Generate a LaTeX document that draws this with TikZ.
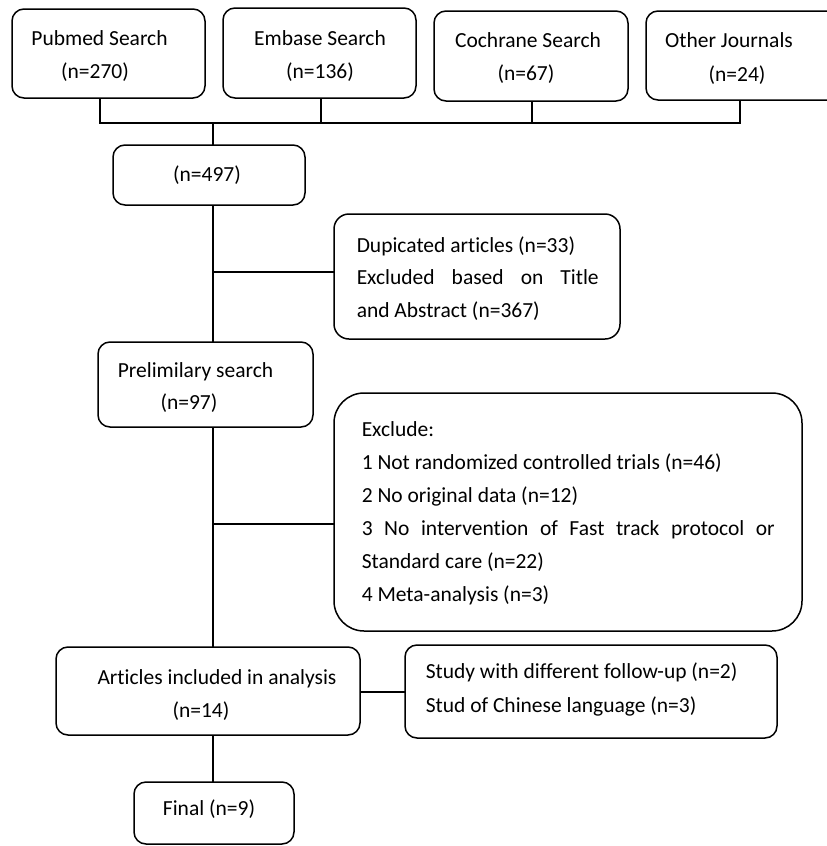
\documentclass[tikz,border=0pt]{standalone}
\usepackage{fontspec}
\setmainfont{Carlito}[Ligatures=NoCommon]
\begin{document}
\begin{tikzpicture}[x=1pt,y=-1pt,line width=1.5pt,
  box/.style={draw, rounded corners=#1, inner sep=0pt, outer sep=0pt},
  box/.default=12pt,
  txt/.style={inner sep=0pt, font=\fontsize{21.5}{26}\selectfont, anchor=mid, yshift=-3pt},
  txl/.style={txt, anchor=mid west},
  conn/.style={line width=1.5pt}]
\useasboundingbox (0,0) rectangle (827,846);
\clip (0,0) rectangle (827,846);

% boxes
\node[box, minimum width=193pt, minimum height=89pt] (pub) at (108.5,53.5) {};
\node[box, minimum width=193pt, minimum height=90pt] (emb) at (319.5,53) {};
\node[box, minimum width=194pt, minimum height=90pt] (coc) at (531,56) {};
\node[box, minimum width=194pt, minimum height=89pt] (oth) at (743,55.5) {};
\node[box, minimum width=192pt, minimum height=60pt] (n497) at (209,175) {};
\node[box=15pt, minimum width=286pt, minimum height=125pt] (dup) at (477,276.5) {};
\node[box, minimum width=215pt, minimum height=85pt] (pre) at (205.5,384.5) {};
\node[box=30pt, minimum width=468pt, minimum height=238pt] (exc) at (568,512) {};
\node[box, minimum width=304pt, minimum height=88pt] (art) at (208,691) {};
\node[box, minimum width=372pt, minimum height=93pt] (fol) at (591,691.5) {};
\node[box, minimum width=160pt, minimum height=62pt] (fin) at (214,813) {};

% texts
\node[txt] at (99.5,40) {Pubmed Search};
\node[txt] at (95,73) {(n=270)};
\node[txt] at (320,40) {Embase Search};
\node[txt] at (320,73) {(n=136)};
\node[txt] at (528,42) {Cochrane Search};
\node[txt] at (526,75) {(n=67)};
\node[txt] at (729,42) {Other Journals};
\node[txt] at (737,76) {(n=24)};
\node[txt] at (207,176) {(n=497)};
\node[txl] at (356,247) {Dupicated articles (n=33)};
\node[txl] at (356,279) {\makebox[242pt][s]{Excluded based on Title}};
\node[txl] at (356,312) {and Abstract (n=367)};
\node[txt] at (195.5,372) {Prelimilary search};
\node[txt] at (189,404) {(n=97)};
\node[txl] at (361,431) {Exclude:};
\node[txl] at (361,464) {1 Not randomized controlled trials (n=46)};
\node[txl] at (361,497) {2 No original data (n=12)};
\node[txl] at (361,530) {\makebox[413pt][s]{3 No intervention of Fast track protocol or}};
\node[txl] at (361,563) {Standard care (n=22)};
\node[txl] at (361,596) {4 Meta-analysis (n=3)};
\node[txt] at (217,679) {Articles included in analysis};
\node[txt] at (201,712) {(n=14)};
\node[txl] at (425,673) {Study with different follow-up (n=2)};
\node[txl] at (425,707) {Stud of Chinese language (n=3)};
\node[txt] at (209,810) {Final (n=9)};

% connectors
\coordinate (b1) at (100,123);
\coordinate (b2) at (321,123);
\coordinate (b3) at (532,123);
\coordinate (b4) at (740,123);
\coordinate (t0) at (213,123);
\draw[conn] (b1 |- pub.south) -- (b1) -- (b4) -- (b4 |- oth.south);
\draw[conn] (b2 |- emb.south) -- (b2);
\draw[conn] (b3 |- coc.south) -- (b3);
\draw[conn] (t0) -- (t0 |- n497.north);
\draw[conn] (t0 |- n497.south) -- (t0 |- pre.north);
\coordinate (j1) at (213,272);
\draw[conn] (j1) -- (j1 -| dup.west);
\draw[conn] (t0 |- pre.south) -- (t0 |- art.north);
\coordinate (j2) at (213,524);
\draw[conn] (j2) -- (j2 -| exc.west);
\coordinate (j3) at (360,692);
\draw[conn] (j3 -| art.east) -- (j3 -| fol.west);
\draw[conn] (t0 |- art.south) -- (t0 |- fin.north);
\end{tikzpicture}
\end{document}
